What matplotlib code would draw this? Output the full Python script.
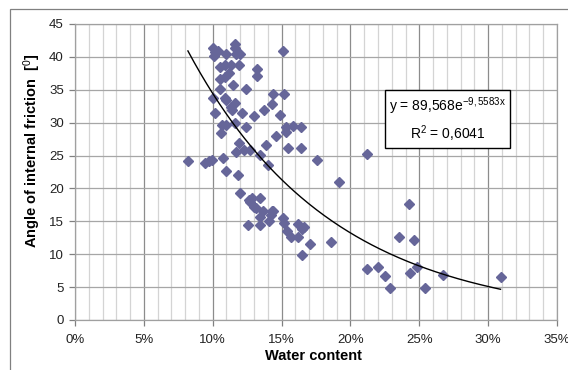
import numpy as np
import matplotlib.pyplot as plt
from matplotlib.patches import Rectangle
from matplotlib.ticker import MultipleLocator, FuncFormatter

plt.rcParams['font.family'] = ['Liberation Sans Narrow', 'Liberation Sans', 'DejaVu Sans']
plt.rcParams['mathtext.fontset'] = 'custom'
plt.rcParams['mathtext.rm'] = 'Liberation Sans'
plt.rcParams['mathtext.it'] = 'Liberation Sans'
plt.rcParams['mathtext.bf'] = 'Liberation Sans:bold'

# --- measured points (water content in %, angle in degrees) ---
water = [8.2, 9.45, 9.7, 9.95, 10.75, 11.0, 11.8, 11.95, 12.6, 12.7,
         12.85, 13.4, 13.0, 13.15, 13.65, 14.3, 14.4, 14.2, 13.45, 14.1,
         12.55, 13.4, 15.1, 15.2, 15.4, 15.65, 16.2, 16.5, 16.6, 16.2,
         17.05, 18.6, 16.5, 14.0, 17.6, 19.2, 21.2, 24.25, 23.5, 24.6,
         21.2, 22.0, 22.5, 22.85, 24.3, 24.85, 25.4, 26.7, 30.9, 13.4,
         12.3, 12.7, 11.7, 11.9, 13.9, 15.5, 16.4, 14.6, 15.3, 15.35,
         15.8, 16.4, 10.6, 10.7, 11.0, 11.6, 12.45, 14.85, 13.0, 12.1,
         10.2, 11.3, 11.4, 13.75, 14.3, 14.4, 15.2, 10.0, 10.9, 11.0,
         11.65, 10.5, 11.5, 12.4, 10.5, 10.9, 11.15, 13.2, 13.2, 10.55,
         10.9, 11.3, 11.9, 10.0, 10.2, 10.1, 10.4, 11.0, 11.65, 11.7,
         12.0, 15.1, 11.6]
angle = [24.1, 23.8, 24.1, 24.4, 24.7, 22.7, 22.0, 19.3, 18.2, 18.0,
         18.5, 18.5, 17.2, 17.0, 16.6, 16.5, 16.6, 16.0, 15.6, 15.1,
         14.5, 14.5, 15.5, 14.7, 13.6, 12.6, 14.6, 13.9, 14.1, 12.6,
         11.55, 11.8, 9.9, 23.6, 24.3, 21.0, 25.2, 17.6, 12.6, 12.2,
         7.75, 8.1, 6.7, 4.9, 7.2, 8.1, 4.9, 6.9, 6.6, 25.1,
         25.9, 25.8, 25.6, 26.9, 26.6, 26.2, 26.1, 27.9, 28.6, 29.4,
         29.5, 29.4, 28.5, 29.6, 29.6, 29.9, 29.3, 31.2, 31.0, 31.4,
         31.5, 32.4, 31.9, 32.0, 32.8, 34.3, 34.3, 33.7, 33.7, 33.4,
         33.0, 35.1, 35.7, 35.1, 36.7, 37.0, 37.6, 38.1, 37.1, 38.5,
         38.75, 38.75, 38.75, 41.4, 40.7, 40.2, 40.9, 40.4, 41.9, 40.5,
         40.5, 40.9, 41.4]

# exponential trendline y = a * exp(b * x), x as fraction
trend_a = 89.568
trend_b = -9.5583

x = np.array(water) / 100.0
y = np.array(angle)

fig = plt.figure(figsize=(5.68, 3.70), dpi=100)
ax = fig.add_axes([75 / 568, 1 - 320 / 370, (557 - 75) / 568, (320 - 24) / 370])

# outer chart border (only left and top are visible in the image)
fig.patches.append(Rectangle((10 / 568, -0.1), 1.2, 1 - 9 / 370 + 0.1,
                             transform=fig.transFigure, fill=False,
                             edgecolor='#808080', lw=0.9))

ax.set_xlim(0, 0.35)
ax.set_ylim(0, 45)

ax.xaxis.set_major_locator(MultipleLocator(0.05))
ax.xaxis.set_minor_locator(MultipleLocator(0.01))
ax.yaxis.set_major_locator(MultipleLocator(5))
ax.xaxis.set_major_formatter(FuncFormatter(lambda v, p: '%d%%' % round(v * 100)))

ax.grid(True, which='major', axis='x', color='#8c8c8c', lw=0.9)
ax.grid(True, which='minor', axis='x', color='#d4d4d4', lw=0.9)
ax.grid(True, which='major', axis='y', color='#a6a6a6', lw=0.9)
ax.set_axisbelow(True)

for side in ['left', 'bottom', 'top', 'right']:
    ax.spines[side].set_color('#a0a0a0')
    ax.spines[side].set_linewidth(0.9)

ax.tick_params(axis='both', which='major', labelsize=9.5, colors='#808080',
               labelcolor='#222222', length=4, width=0.9)
ax.tick_params(axis='x', which='minor', length=0)
ax.tick_params(axis='x', pad=6)
ax.tick_params(axis='y', pad=4)

ax.plot(x, y, ls='none', marker='D', ms=5.3, color='#666699',
        markeredgecolor='#666699', zorder=3)

xt = np.linspace(x.min(), x.max(), 200)
ax.plot(xt, trend_a * np.exp(trend_b * xt), color='black', lw=1.0, zorder=4)

ax.text(0.773, 0.677, 'y = 89,568e$^{\\mathrm{-9,5583x}}$\nR$^{\\mathrm{2}}$ = 0,6041',
        transform=ax.transAxes, ha='center', va='center', fontsize=10,
        linespacing=1.45, zorder=5,
        bbox=dict(boxstyle='square,pad=0.3', fc='white', ec='black', lw=1.0))

fig.text(313 / 568, 1 - 356 / 370, 'Water content', ha='center', va='center',
         fontsize=10.5, fontweight='bold')
fig.text(32 / 568, 1 - 151 / 370, 'Angle of internal friction  [$^{\\mathrm{0}}$]',
         ha='center', va='center', rotation=90, fontsize=10.5, fontweight='bold')

fig.savefig('out.png', dpi=100)
